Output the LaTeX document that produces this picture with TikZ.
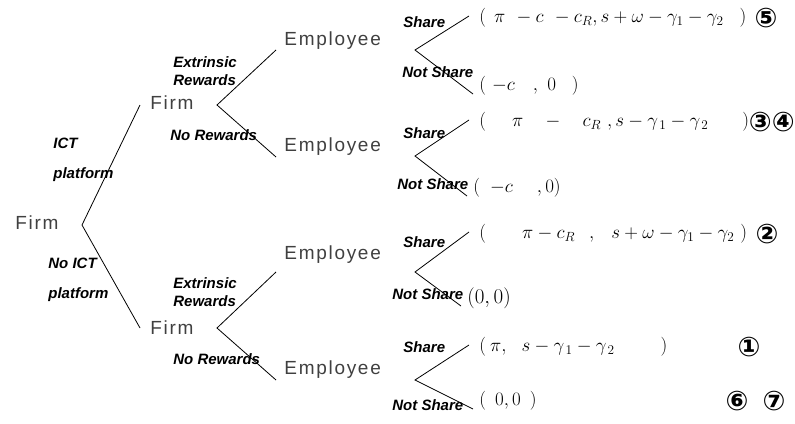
\RequirePackage{fix-cm}
\documentclass[tikz,border=0pt]{standalone}
\usepackage{fontspec}
\setmainfont{Liberation Serif}
\newfontfamily\playerfont[LetterSpace=9]{Liberation Sans}
\newfontfamily\labelfont{Liberation Sans}
\newfontfamily\circfont{DejaVu Sans}

\begin{document}
\begin{tikzpicture}[x=1pt,y=-1pt,line width=0.8pt,
    player/.style={anchor=west,inner sep=0pt,text=black!75,font=\playerfont\fontsize{19}{20}\selectfont},
    act/.style={anchor=west,inner sep=0pt,align=left,font=\labelfont\bfseries\itshape\fontsize{15}{18}\selectfont},
    pay/.style={anchor=west,inner sep=0pt,font=\fontsize{19}{22}\selectfont},
    circ/.style={inner sep=0pt,font=\circfont\bfseries\fontsize{27}{28}\selectfont}]
    \useasboundingbox (0,0) rectangle (795,423);
    % players
    \node[player] (root) at (15,223) {Firm};
    \node[player] (fa) at (150,103) {Firm};
    \node[player] (fb) at (150,328) {Firm};
    \node[player] (ea) at (284,41) {Employee};
    \node[player] (eb) at (284,147) {Employee};
    \node[player] (ec) at (284,255) {Employee};
    \node[player] (ed) at (284,370) {Employee};
    % branching points
    \coordinate (v0) at (82,225);
    \coordinate (va) at (217,105);
    \coordinate (vb) at (217,328);
    \coordinate (wa) at (415,50);
    \coordinate (wb) at (415,156);
    \coordinate (wc) at (415,272);
    \coordinate (wd) at (415,380);
    % first and second stage
    \draw ([xshift=-10pt,yshift=-2pt]fa.west) -- (v0) -- ([xshift=-10pt]fb.west);
    \draw ([xshift=-8pt,yshift=-9pt]ea.west) -- (va) -- ([xshift=-8pt,yshift=-10pt]eb.west);
    \draw ([xshift=-8pt,yshift=-17pt]ec.west) -- (vb) -- ([xshift=-8pt,yshift=-10pt]ed.west);
    % payoffs
    \node[pay] (pa1) at (479,18) {$(\hspace{8pt}\pi\hspace{7pt}-c\hspace{7pt}-c_R,s+\omega-\gamma_1-\gamma_2\hspace{16pt})$};
    \node[pay] (pa2) at (479,86) {$(\hspace{6pt}-c\hspace{18pt},\hspace{6pt}0\hspace{16pt})$};
    \node[pay] (pb1) at (479,122) {$(\hspace{26pt}\pi\hspace{18pt}-\hspace{18pt}c_R\hspace{6pt},s-\gamma_{\,1}-\gamma_{\,2}\hspace{34pt})$};
    \node[pay] (pb2) at (473,188) {$(\hspace{10pt}-c\hspace{24pt},0)$};
    \node[pay] (pc1) at (479,234) {$(\hspace{36pt}\pi-c_R\hspace{14pt},\hspace{14pt}s+\omega-\gamma_1-\gamma_2\hspace{6pt})$};
    \node[pay,font=\fontsize{21}{24}\selectfont] (pc2) at (467,298) {$(0,0)$};
    \node[pay] (pd1) at (479,347) {$(\hspace{4pt}\pi,\hspace{12pt}s-\gamma_{\,1}-\gamma_{\,2}\hspace{46pt})$};
    \node[pay] (pd2) at (479,401) {$(\hspace{9pt}0,0\hspace{9pt})$};
    % third stage
    \foreach \w/\p/\q in {wa/pa1/pa2,wb/pb1/pb2,wc/pc1/pc2,wd/pd1/pd2}
        \draw ([xshift=-10pt,yshift=2pt]\p.west) -- (\w) -- ([xshift=-6pt,yshift=-8pt]\q.west);
    % equilibria
    \node[circ] (n5) at (766,18) {⑤};
    \node[circ,anchor=east] (n34) at (795,122) {③④};
    \node[circ] (n2) at (767,234) {②};
    \node[circ] (n1) at (749,347) {①};
    \node[circ] (n6) at (737,401) {⑥};
    \node[circ] (n7) at (774,401) {⑦};
    % actions
    \node[act,font=\labelfont\bfseries\itshape\fontsize{15}{30}\selectfont] (ict) at (53,160) {ICT\\platform};
    \node[act,font=\labelfont\bfseries\itshape\fontsize{15}{30}\selectfont] (noict) at (48,280) {No ICT\\platform};
    \node[act] (exa) at (173,71) {Extrinsic\\Rewards};
    \node[act] (nra) at (170,135) {No Rewards};
    \node[act] (exb) at (173,292) {Extrinsic\\Rewards};
    \node[act] (nrb) at (173,359) {No Rewards};
    \node[act] (sa) at (403,22) {Share};
    \node[act] (nsa) at (402,72) {Not Share};
    \node[act] (sb) at (403,133) {Share};
    \node[act] (nsb) at (397,184) {Not Share};
    \node[act] (sc) at (403,242) {Share};
    \node[act] (nsc) at (392,294) {Not Share};
    \node[act] (sd) at (403,347) {Share};
    \node[act] (nsd) at (392,405) {Not Share};
\end{tikzpicture}
\end{document}
